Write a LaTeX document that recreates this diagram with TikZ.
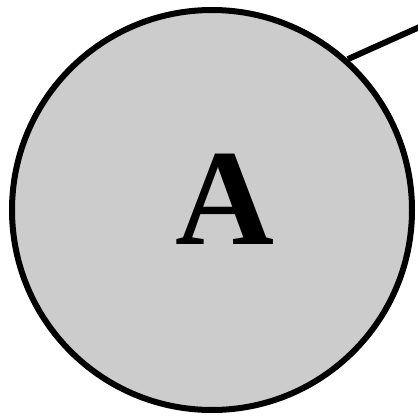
\documentclass[tikz,border=0pt]{standalone}
\usepackage{fontspec}
\setmainfont{Liberation Serif}
\begin{document}
\begin{tikzpicture}[x=1pt,y=1pt,
  statenode/.style={circle,draw=black,fill={rgb,255:red,204;green,204;blue,204},line width=6pt,minimum size=400pt,inner sep=0pt},
  edgeline/.style={draw=black,line width=6pt},
  bigletter/.style={inner sep=0pt,anchor=base,font=\fontsize{137}{137}\selectfont\bfseries}]
\useasboundingbox (0,0) rectangle (418,416);
\node[statenode] (A) at (212,206) {};
\node[bigletter] (Alabel) at (225,172) {A};
\coordinate (e) at (424,391);
\draw[edgeline] (A.48.7) -- (e);
\end{tikzpicture}
\end{document}
